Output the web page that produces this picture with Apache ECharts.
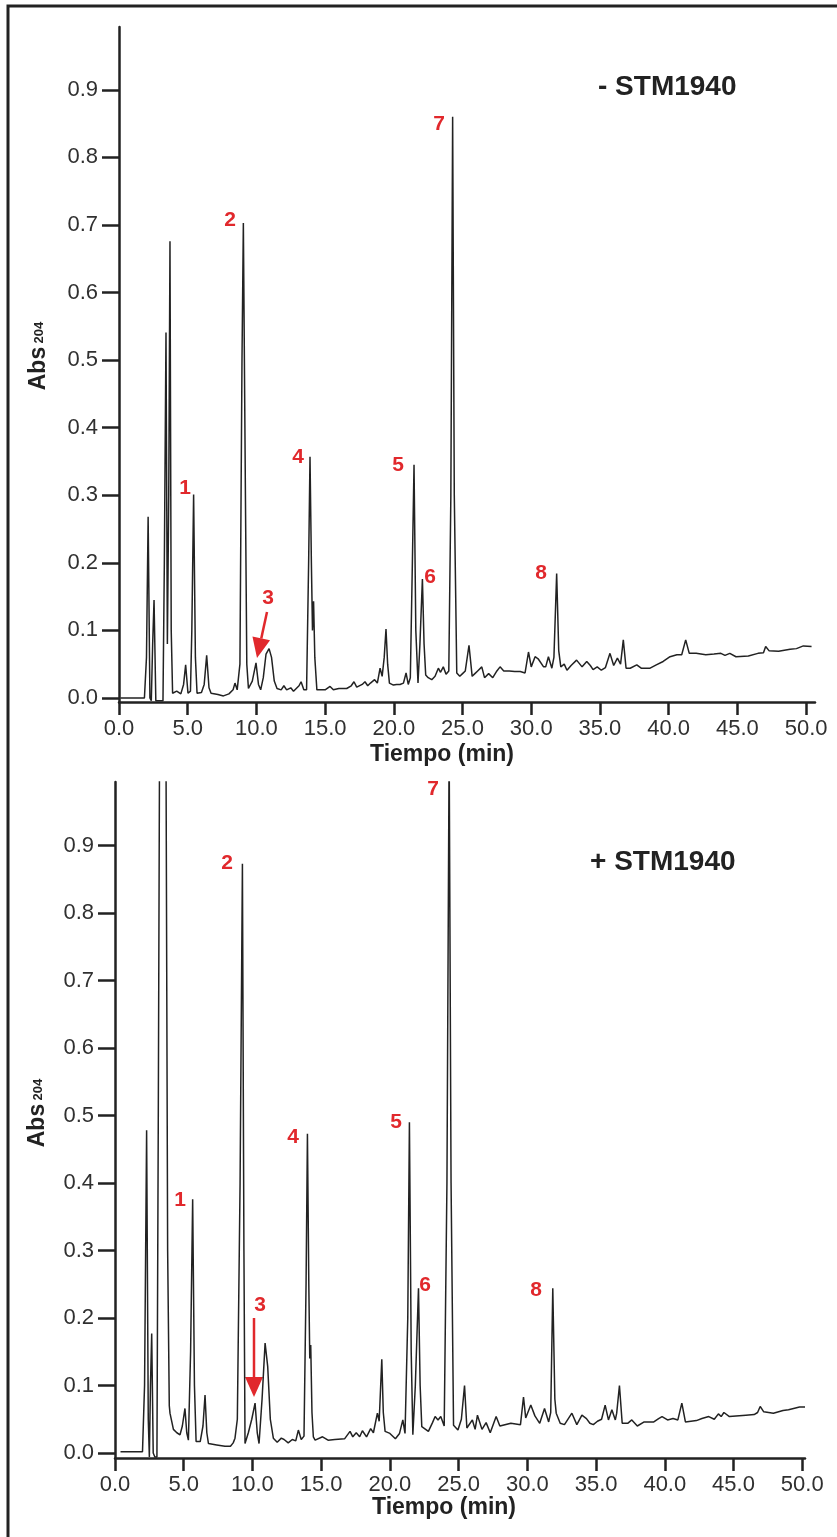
<!DOCTYPE html>
<html>
<head>
<meta charset="utf-8">
<title>Cromatogramas STM1940</title>
<script src="https://cdn.jsdelivr.net/npm/echarts@6/dist/echarts.min.js"></script>
<style>
  html, body { margin: 0; padding: 0; background: #ffffff; }
  #chart { width: 837px; height: 1537px; }
</style>
</head>
<body>
<div id="chart"></div>
<script>
// Tick values shared by both chromatograms
const tiempoTicks = [0, 5, 10, 15, 20, 25, 30, 35, 40, 45, 50];
const absTicks = [0, 0.1, 0.2, 0.3, 0.4, 0.5, 0.6, 0.7, 0.8, 0.9];

// Chromatogram without STM1940: [time (min), Abs 204]
const trazaSin = [
  [0.1,0.0],[1.85,0.0],[2.0,0.06],[2.12,0.268],[2.25,0.0],[2.35,-0.004],[2.45,0.08],[2.55,0.145],
  [2.68,-0.004],[3.2,-0.004],[3.3,0.2],[3.42,0.541],[3.52,0.08],[3.62,0.3],[3.71,0.676],[3.8,0.1],
  [3.9,0.007],[4.2,0.01],[4.5,0.006],[4.7,0.02],[4.85,0.049],[5.02,0.007],[5.2,0.01],[5.3,0.1],
  [5.43,0.301],[5.56,0.06],[5.68,0.007],[6.0,0.008],[6.2,0.02],[6.38,0.063],[6.55,0.015],[6.7,0.007],
  [7.2,0.005],[7.6,0.003],[8.0,0.006],[8.3,0.012],[8.44,0.022],[8.6,0.012],[8.8,0.05],[8.95,0.5],
  [9.05,0.703],[9.2,0.3],[9.3,0.05],[9.42,0.014],[9.7,0.025],[9.97,0.052],[10.15,0.02],[10.31,0.012],
  [10.5,0.03],[10.7,0.065],[10.92,0.073],[11.1,0.06],[11.3,0.025],[11.5,0.014],[11.8,0.012],[12.0,0.018],
  [12.2,0.012],[12.5,0.015],[12.7,0.01],[12.9,0.014],[13.1,0.018],[13.25,0.024],[13.45,0.012],[13.65,0.012],
  [13.8,0.2],[13.9,0.357],[14.0,0.2],[14.08,0.1],[14.16,0.143],[14.25,0.06],[14.4,0.012],[14.7,0.012],
  [15.0,0.012],[15.36,0.017],[15.6,0.012],[16.0,0.014],[16.57,0.014],[16.9,0.018],[17.1,0.024],[17.3,0.016],
  [17.42,0.017],[17.7,0.02],[17.9,0.024],[18.1,0.018],[18.3,0.022],[18.6,0.027],[18.8,0.022],[19.0,0.044],
  [19.15,0.032],[19.3,0.06],[19.43,0.102],[19.55,0.05],[19.68,0.022],[19.97,0.019],[20.2,0.02],[20.45,0.02],
  [20.7,0.022],[20.89,0.037],[21.05,0.02],[21.2,0.03],[21.35,0.2],[21.47,0.345],[21.6,0.1],[21.76,0.022],
  [21.9,0.08],[22.08,0.176],[22.2,0.08],[22.32,0.034],[22.5,0.03],[22.76,0.027],[23.0,0.032],[23.24,0.044],
  [23.4,0.038],[23.6,0.046],[23.8,0.035],[24.0,0.04],[24.15,0.3],[24.28,0.86],[24.4,0.3],[24.58,0.037],
  [24.8,0.032],[25.0,0.036],[25.2,0.04],[25.47,0.078],[25.7,0.032],[25.9,0.036],[26.1,0.04],[26.4,0.046],
  [26.6,0.03],[26.9,0.036],[27.2,0.03],[27.5,0.04],[27.73,0.046],[28.0,0.04],[28.4,0.04],[28.8,0.039],
  [29.2,0.039],[29.55,0.037],[29.8,0.068],[30.0,0.046],[30.28,0.061],[30.5,0.058],[30.9,0.046],[31.05,0.046],
  [31.25,0.061],[31.5,0.044],[31.65,0.06],[31.85,0.184],[32.0,0.07],[32.15,0.046],[32.4,0.05],[32.6,0.041],
  [32.9,0.048],[33.3,0.056],[33.7,0.046],[34.04,0.054],[34.3,0.048],[34.5,0.042],[34.8,0.046],[35.1,0.041],
  [35.4,0.045],[35.73,0.066],[36.0,0.048],[36.27,0.059],[36.5,0.05],[36.7,0.086],[36.9,0.044],[37.2,0.044],
  [37.68,0.049],[38.0,0.044],[38.65,0.044],[39.1,0.049],[39.6,0.054],[40.1,0.061],[40.6,0.064],[40.95,0.064],
  [41.24,0.086],[41.5,0.066],[42.0,0.066],[42.7,0.064],[43.3,0.065],[43.8,0.066],[44.1,0.063],[44.45,0.066],
  [44.9,0.061],[45.8,0.062],[46.5,0.066],[46.9,0.067],[47.06,0.076],[47.3,0.07],[48.0,0.069],[48.84,0.072],
  [49.3,0.073],[49.8,0.077],[50.4,0.076]
];

// Chromatogram with STM1940: [time (min), Abs 204]
const trazaCon = [
  [0.4,0.002],[2.0,0.002],[2.15,0.1],[2.3,0.478],[2.42,0.05],[2.5,-0.006],[2.58,0.1],[2.67,0.177],
  [2.78,0.0],[2.9,-0.006],[3.05,-0.006],[3.15,0.5],[3.25,1.1],[3.7,1.1],[3.83,0.3],[3.95,0.07],
  [4.0,0.059],[4.25,0.035],[4.5,0.03],[4.73,0.027],[4.9,0.04],[5.09,0.066],[5.22,0.03],[5.34,0.019],
  [5.5,0.15],[5.65,0.376],[5.78,0.1],[5.9,0.017],[6.2,0.017],[6.4,0.04],[6.55,0.086],[6.68,0.03],
  [6.8,0.014],[7.4,0.012],[8.0,0.01],[8.4,0.01],[8.6,0.015],[8.73,0.022],[8.9,0.05],[9.1,0.4],
  [9.27,0.873],[9.38,0.3],[9.46,0.014],[9.7,0.03],[9.95,0.05],[10.19,0.074],[10.35,0.03],[10.48,0.014],
  [10.7,0.08],[10.92,0.163],[11.11,0.128],[11.3,0.05],[11.52,0.022],[11.8,0.016],[12.1,0.022],[12.3,0.02],
  [12.6,0.015],[12.9,0.02],[13.15,0.018],[13.34,0.034],[13.55,0.02],[13.75,0.025],[13.9,0.25],[14.0,0.473],
  [14.1,0.25],[14.17,0.14],[14.24,0.16],[14.33,0.06],[14.43,0.024],[14.56,0.019],[15.1,0.024],[15.5,0.019],
  [16.0,0.02],[16.7,0.021],[17.1,0.032],[17.3,0.024],[17.55,0.03],[17.8,0.024],[18.0,0.033],[18.3,0.024],
  [18.6,0.036],[18.8,0.03],[19.09,0.059],[19.22,0.047],[19.41,0.139],[19.52,0.06],[19.65,0.032],[20.0,0.029],
  [20.4,0.021],[20.7,0.029],[20.94,0.049],[21.1,0.029],[21.3,0.2],[21.42,0.49],[21.55,0.15],[21.67,0.027],
  [21.85,0.1],[22.08,0.244],[22.2,0.1],[22.32,0.039],[22.8,0.032],[23.1,0.045],[23.29,0.054],[23.5,0.049],
  [23.7,0.054],[23.95,0.04],[24.15,0.4],[24.31,1.05],[24.45,0.4],[24.63,0.041],[24.95,0.034],[25.2,0.05],
  [25.43,0.1],[25.6,0.037],[26.0,0.049],[26.2,0.035],[26.37,0.056],[26.7,0.035],[27.0,0.045],[27.3,0.03],
  [27.73,0.054],[28.0,0.04],[28.8,0.044],[29.5,0.042],[29.72,0.083],[29.88,0.052],[30.25,0.071],[30.55,0.055],
  [30.9,0.044],[31.25,0.066],[31.55,0.046],[31.7,0.06],[31.85,0.244],[32.0,0.08],[32.1,0.059],[32.39,0.044],
  [32.7,0.042],[33.24,0.059],[33.6,0.042],[33.97,0.056],[34.3,0.051],[34.55,0.044],[34.8,0.042],[35.1,0.047],
  [35.4,0.05],[35.66,0.071],[35.9,0.049],[36.15,0.064],[36.4,0.049],[36.5,0.059],[36.7,0.1],[36.9,0.044],
  [37.3,0.044],[37.6,0.049],[38.0,0.04],[38.5,0.046],[39.2,0.046],[39.55,0.051],[39.8,0.054],[40.2,0.049],
  [40.6,0.051],[40.95,0.049],[41.24,0.074],[41.5,0.046],[42.3,0.048],[42.7,0.051],[43.2,0.054],[43.6,0.05],
  [43.9,0.058],[44.1,0.054],[44.3,0.06],[44.7,0.054],[45.9,0.056],[46.5,0.057],[46.75,0.06],[46.94,0.069],
  [47.2,0.061],[47.9,0.059],[48.6,0.063],[49.0,0.064],[49.37,0.066],[49.8,0.068],[50.2,0.068]
];

// Panel captions and peak numbers
const rotulos = ['- STM1940', '+ STM1940'];
const picos = ['1', '2', '3', '4', '5', '6', '7', '8'];

const FONT = '"Liberation Sans", Arial, Helvetica, sans-serif';
const INK = '#222222';
const RED = '#e1282c';

function ejeX(grid, max) {
  return {
    gridIndex: grid, type: 'value', min: 0, max: max,
    axisLine: { show: true, onZero: false, lineStyle: { color: INK, width: 2.5 } },
    axisTick: { show: true, length: 13, customValues: tiempoTicks, lineStyle: { color: INK, width: 2.5 } },
    axisLabel: { customValues: tiempoTicks, formatter: v => v.toFixed(1), fontSize: 22,
                 fontFamily: FONT, color: '#303030', margin: 16 },
    splitLine: { show: false }
  };
}
function ejeY(grid, min, max) {
  return {
    gridIndex: grid, type: 'value', min: min, max: max,
    axisLine: { show: true, onZero: false, lineStyle: { color: INK, width: 2.5 } },
    axisTick: { show: true, length: 17, customValues: absTicks, lineStyle: { color: INK, width: 2.5 } },
    axisLabel: { customValues: absTicks, formatter: v => v.toFixed(1), fontSize: 22,
                 fontFamily: FONT, color: '#303030', margin: 21 },
    splitLine: { show: false }
  };
}
function traza(i, data) {
  return {
    type: 'line', xAxisIndex: i, yAxisIndex: i, data: data,
    showSymbol: false, symbol: 'none', clip: true, silent: true,
    lineStyle: { color: '#222222', width: 1.5 }
  };
}
function texto(t, x, y, font, fill, align) {
  return { type: 'text', silent: true,
    style: { text: t, x: x, y: y, font: font, fill: fill,
             align: align || 'center', verticalAlign: 'middle',
             textAlign: align || 'center', textVerticalAlign: 'middle' } };
}
function tituloY(x, y) {
  return { type: 'text', silent: true, x: x, y: y, rotation: Math.PI / 2,
    style: { text: '{a|Abs} {b|204}', x: 0, y: 0, align: 'center', verticalAlign: 'middle',
             textAlign: 'center', textVerticalAlign: 'middle',
             rich: { a: { font: 'bold 23px ' + FONT, fill: INK, color: INK },
                     b: { font: 'bold 13px ' + FONT, fill: INK, color: INK } } } };
}
function flecha(x1, y1, x2, y2) {
  // red arrow pointing from (x1,y1) to the tip (x2,y2)
  const dx = x2 - x1, dy = y2 - y1, L = Math.hypot(dx, dy);
  const ux = dx / L, uy = dy / L, hl = 20, hw = 9;
  const bx = x2 - ux * hl, by = y2 - uy * hl;
  return [
    { type: 'line', silent: true, shape: { x1: x1, y1: y1, x2: bx, y2: by },
      style: { stroke: RED, lineWidth: 2.5 } },
    { type: 'polygon', silent: true,
      shape: { points: [[x2, y2], [bx - uy * hw, by + ux * hw], [bx + uy * hw, by - ux * hw]] },
      style: { fill: RED } }
  ];
}

const bold = s => 'bold ' + s + 'px ' + FONT;
const posSin = [[185,488],[230,220],[268,598],[298,457],[398,465],[430,577],[439,124],[541,573]];
const posCon = [[180,1200],[227,863],[260,1305],[293,1137],[396,1122],[425,1285],[433,789],[536,1290]];

const graficos = [
  { type: 'rect', silent: true, shape: { x: 8, y: 6, width: 900, height: 1600 },
    style: { fill: 'none', stroke: INK, lineWidth: 3 } },
  texto(rotulos[0], 598, 87, bold(28), INK, 'left'),
  texto(rotulos[1], 590, 862, bold(28), INK, 'left'),
  texto('Tiempo (min)', 442, 755, bold(23), INK),
  texto('Tiempo (min)', 444, 1508, bold(23), INK),
  tituloY(39, 356),
  tituloY(38, 1113)
];
picos.forEach((p, i) => {
  graficos.push(texto(p, posSin[i][0], posSin[i][1], bold(21), RED));
  graficos.push(texto(p, posCon[i][0], posCon[i][1], bold(21), RED));
});
graficos.push(...flecha(267, 612, 257, 658));
graficos.push(...flecha(254, 1318, 254, 1397));

const chart = echarts.init(document.getElementById('chart'), null, { renderer: 'canvas' });
chart.setOption({
  animation: false,
  backgroundColor: '#ffffff',
  grid: [
    { left: 119, top: 27, width: 696, height: 675 },
    { left: 115, top: 782, width: 690, height: 676 }
  ],
  xAxis: [ejeX(0, 50.65), ejeX(1, 50.2)],
  yAxis: [ejeY(0, -0.006, 0.993), ejeY(1, -0.0074, 0.994)],
  series: [traza(0, trazaSin), traza(1, trazaCon)],
  graphic: graficos
});
</script>
</body>
</html>
